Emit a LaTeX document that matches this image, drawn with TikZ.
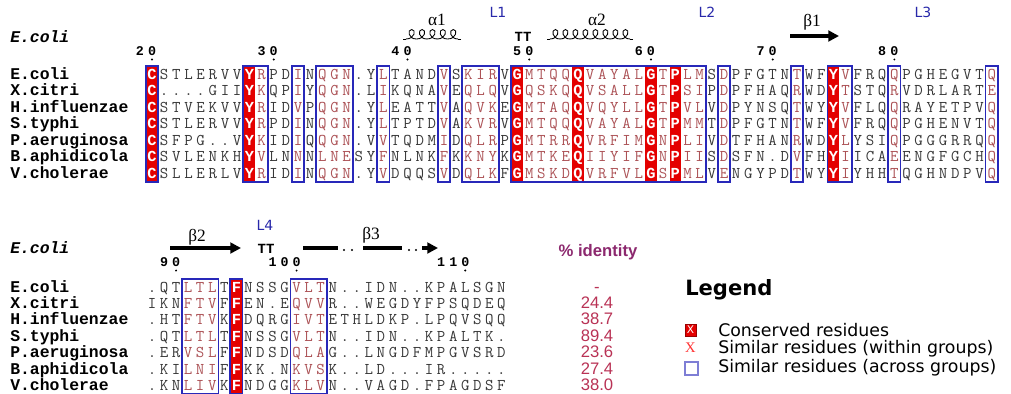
\documentclass[tikz,border=0pt]{standalone}
\usepackage{fontspec}
\usetikzlibrary{arrows.meta}
\newfontfamily\namefont{Liberation Mono}
\newfontfamily\seqfont{Latin Modern Mono}
\newfontfamily\legfont{DejaVu Sans}
\newfontfamily\idfont{Liberation Sans}
\newfontfamily\grkfont{Liberation Serif}
\definecolor{consred}{RGB}{228,0,0}
\definecolor{boxblue}{RGB}{40,40,185}
\definecolor{simred}{RGB}{172,82,86}
\definecolor{resblack}{RGB}{55,55,55}
\definecolor{lblue}{RGB}{40,40,170}
\definecolor{idpurple}{RGB}{140,40,110}
\definecolor{idred}{RGB}{185,50,85}
\makeatletter
\newcount\colc
\newcommand\markcols[2]{\@for\mc@it:=#2\do{\expandafter\def\csname #1\mc@it\endcsname{}}}
\newcommand\seqrow[6]{%
  \colc=0\relax
  \@tfor\ch:=#6\do{%
    \advance\colc by 1\relax
    \edef\cidx{\the\colc}%
    \node[res=#1\cidx] (#1#2c\cidx) at ({#3+(\cidx-1)*#4},#5) {\ch};%
  }%
}
\makeatother
% helix glyph: #1 start x of loops, #2 number of loops, #3 loop width, #4 baseline y
\newcommand\helixloops[4]{%
  \foreach \k in {1,...,#2}{%
    \pgfmathsetmacro\hx{#1+(\k-1)*#3}%
    \draw[helixline] (\hx,#4) .. controls (\hx+0.85*#3,#4) and (\hx+1.0*#3,#4-9.5) .. (\hx+0.55*#3,#4-9.5)
      .. controls (\hx+0.1*#3,#4-9.5) and (\hx+0.2*#3,#4) .. (\hx+#3,#4);
  }}
\markcols{Ct}{1,9,31,36,42,44,57}
\markcols{St}{10,13,15,16,17,20,25,27,28,29,32,33,34,35,37,38,39,40,41,43,45,46,48,54,58,62,70}
\markcols{Cb}{8}
\markcols{Sb}{4,5,6,13,14,15}
\tikzset{
  resbase/.style={anchor=base, inner sep=0pt, font=\seqfont\fontsize{12.3}{14}\selectfont},
  resplain/.style={text=resblack},
  ressim/.style={text=simred},
  rescons/.style={text=white, font=\namefont\bfseries\fontsize{11.5}{14}\selectfont},
  res/.code={\pgfkeysalso{resbase}%
    \ifcsname C#1\endcsname\pgfkeysalso{rescons}\else
    \ifcsname S#1\endcsname\pgfkeysalso{ressim}\else\pgfkeysalso{resplain}\fi\fi},
  namesty/.style={anchor=base west, inner sep=0pt, font=\namefont\bfseries\fontsize{12.3}{14}\selectfont},
  orgsty/.style={anchor=base west, inner sep=0pt, font=\namefont\bfseries\itshape\fontsize{12.3}{14}\selectfont},
  numsty/.style={anchor=base, inner sep=0pt, font=\namefont\bfseries\fontsize{10}{12}\selectfont},
  boxsty/.style={draw=boxblue, line width=1.2pt},
  loopsty/.style={anchor=base, inner sep=0pt, text=lblue, font=\legfont\fontsize{10.5}{12}\selectfont},
  sslab/.style={anchor=base, inner sep=0pt, font=\grkfont\fontsize{13}{15}\selectfont},
  ttsty/.style={anchor=base, inner sep=0pt, font=\namefont\bfseries\fontsize{10.5}{12}\selectfont},
  helixline/.style={line width=0.65pt},
  strand/.style={line width=2.3pt},
  idsty/.style={anchor=base, inner sep=0pt, text=idred, font=\idfont\fontsize{12.5}{14}\selectfont},
  legtext/.style={anchor=west, inner sep=0pt, font=\legfont\fontsize{13}{15}\selectfont},
}
\begin{document}
\begin{tikzpicture}[x=0.75pt,y=-0.75pt]
\useasboundingbox (0,0) rectangle (1011,393);
\fill[white] (0,0) rectangle (1011,393);

% ---------------- top block ----------------
\node[orgsty] (orgT) at (10,42) {E.coli};
\foreach \d/\c [count=\k] in {2/0,0/1,3/10,0/11,4/21,0/22,5/31,0/32,6/41,0/42,7/51,0/52,8/61,0/62}
  \node[numsty] (numT\k) at ({152+(\c-1)*12.17},55) {\d};
\foreach \c in {1,11,22,32,42,52,62}
  \fill ({152+(\c-1)*12.17},59.5) circle (1.1);

\node[loopsty] (L1) at (498,17) {L1};
\node[loopsty] (L2) at (707,17) {L2};
\node[loopsty] (L3) at (923,17) {L3};
\node[sslab] (a1) at (437,25) {α1};
\node[sslab] (a2) at (597,25) {α2};
\node[sslab] (b1) at (812,26) {β1};
\coordinate (a1s) at (403,39); \coordinate (a1e) at (461,39);
\coordinate (a2s) at (547,39); \coordinate (a2e) at (633,39);
\draw[helixline] (a1s) -- ++(3,0);
\helixloops{406}{5}{10.4}{39}
\draw[helixline] (a1e) -- ++(-3,0);
\draw[helixline] (a2s) -- ++(3,0);
\helixloops{550}{8}{10}{39}
\draw[helixline] (a2e) -- ++(-3,0);
\node[ttsty] (tt1) at (523,41) {TT};
\coordinate (b1s) at (790,36); \coordinate (b1e) at (839,36);
\draw[strand, -{Triangle[length=8pt,width=8pt]}] (b1s) -- (b1e);

\foreach \c in {1,9,31,36,42,44,57}
  \fill[consred] ({152+(\c-1)*12.17-5.6},66) rectangle ({152+(\c-1)*12.17+5.6},182);
\foreach \a/\b in {1/1,9/10,13/13,15/17,20/20,25/25,27/29,31/46,48/48,54/54,57/58,62/62,70/70}
  \draw[boxsty] ({152+(\a-1)*12.17-6.2},66) rectangle ({152+(\b-1)*12.17+6.2},182);

\foreach \n [count=\i] in {E.coli,X.citri,H.influenzae,S.typhi,P.aeruginosa,B.aphidicola,V.cholerae}
  \node[namesty] (nmT\i) at (10,{79+(\i-1)*16.5}) {\n};

\seqrow{t}{1}{152}{12.17}{79}{CSTLERVVYRPDINQGN.YLTANDVSKIRVGMTQQQVAYALGTPLMSDPFGTNTWFYVFRQQPGHEGVTQ}
\seqrow{t}{2}{152}{12.17}{95.5}{C....GIIYKQPIYQGN.LIKQNAVEQLQVGQSKQQVSALLGTPSIPDPFHAQRWDYTSTQRVDRLARTE}
\seqrow{t}{3}{152}{12.17}{112}{CSTVEKVVYRIDVPQGN.YLEATTVAQVKEGMTAQQVQYLLGTPVLVDPYNSQTWYYVFLQQRAYETPVQ}
\seqrow{t}{4}{152}{12.17}{128.5}{CSTLERVVYRPDINQGN.YLTPTDVAKVRVGMTQQQVAYALGTPMMTDPFGTNTWFYVFRQQPGHENVTQ}
\seqrow{t}{5}{152}{12.17}{145}{CSFPG..VYKIDIQQGN.VVTQDMIDQLRPGMTRRQVRFIMGNPLIVDTFHANRWDYLYSIQPGGGRRQQ}
\seqrow{t}{6}{152}{12.17}{161.5}{CSVLENKHYVLNNNLNESYFNLNKFKKNYKGMTKEQIIYIFGNPIISDSFN.DVFHYIICAEENGFGCHQ}
\seqrow{t}{7}{152}{12.17}{178}{CSLLERLVYRIDINQGN.YVDQQSVDQLKFGMSKDQVRFVLGSPMLVENGYPDTWYYIYHHTQGHNDPVQ}

% ---------------- bottom block ----------------
\node[orgsty] (orgB) at (10,253) {E.coli};
\foreach \d/\c [count=\k] in {9/2,0/3,1/11,0/12,0/13,1/25,1/26,0/27}
  \node[numsty] (numB\k) at ({152+(\c-1)*12.05},266) {\d};
\foreach \c in {3,13,27}
  \fill ({152+(\c-1)*12.05},270.5) circle (1.1);

\node[loopsty] (L4) at (265,230) {L4};
\node[sslab] (b2) at (197,241) {β2};
\node[sslab] (b3) at (371,239) {β3};
\coordinate (b2s) at (170,248); \coordinate (b2e) at (241,248);
\draw[strand, -{Triangle[length=8pt,width=8pt]}] (b2s) -- (b2e);
\node[ttsty] (tt2) at (266,253) {TT};
\coordinate (b3a) at (303,248); \coordinate (b3b) at (338,248);
\coordinate (b3c) at (363,248); \coordinate (b3d) at (402,248);
\coordinate (b3e) at (422,248); \coordinate (b3f) at (438,248);
\draw[strand] (b3a) -- (b3b);
\draw[strand] (b3c) -- (b3d);
\draw[strand, -{Triangle[length=8pt,width=8pt]}] (b3e) -- (b3f);
\foreach \x in {344,352,409,416} \fill (\x,250) circle (1.1);

\fill[consred] ({152+7*12.05-5.6},279) rectangle ({152+7*12.05+5.6},394);
\foreach \a/\b in {4/6,8/8,13/15}
  \draw[boxsty] ({152+(\a-1)*12.05-6.2},279) rectangle ({152+(\b-1)*12.05+6.2},394);

\foreach \n [count=\i] in {E.coli,X.citri,H.influenzae,S.typhi,P.aeruginosa,B.aphidicola,V.cholerae}
  \node[namesty] (nmB\i) at (10,{292+(\i-1)*16.4}) {\n};

\seqrow{b}{1}{152}{12.05}{292}{.QTLTLTFNSSGVLTN..IDN..KPALSGN}
\seqrow{b}{2}{152}{12.05}{308.4}{IKNFTVFFEN.EQVVR..WEGDYFPSQDEQ}
\seqrow{b}{3}{152}{12.05}{324.8}{.HTFTVKFDQRGIVTETHLDKP.LPQVSQQ}
\seqrow{b}{4}{152}{12.05}{341.2}{.QTLTLTFNSSGVLTN..IDN..KPALTK.}
\seqrow{b}{5}{152}{12.05}{357.6}{.ERVSLFFNDSDQLAG..LNGDFMPGVSRD}
\seqrow{b}{6}{152}{12.05}{374}{.KILNIFFKK.NKVSK..LD...IR.....}
\seqrow{b}{7}{152}{12.05}{390.4}{.KNLIVKFNDGGKLVN..VAGD.FPAGDSF}

\node[anchor=base, inner sep=0pt, text=idpurple, font=\idfont\bfseries\fontsize{12.5}{14}\selectfont] (idhead) at (598,256) {\% identity};
\foreach \v [count=\i] in {-,24.4,38.7,89.4,23.6,27.4,38.0}
  \node[idsty] (id\i) at (597,{292+(\i-1)*16.4}) {\v};

% ---------------- legend ----------------
\node[anchor=west, inner sep=0pt, font=\legfont\bfseries\fontsize{15.8}{18}\selectfont] (leg) at (685,290) {Legend};
\fill[consred] (685,324) rectangle (696,336);
\draw[red!60!black, line width=0.5pt] (685,324) rectangle (696,336);
\node[inner sep=0pt, text=white, font=\legfont\fontsize{8}{9}\selectfont] (legx1) at (690.5,330) {X};
\node[inner sep=0pt, text=red!80, font=\grkfont\fontsize{11}{12}\selectfont] (legx2) at (690.5,348) {X};
\draw[boxblue!60, line width=1pt] (685,362) rectangle (698,375);
\node[legtext] (lt1) at (718,330) {Conserved residues};
\node[legtext] (lt2) at (718,349) {Similar residues (within groups)};
\node[legtext] (lt3) at (718,368) {Similar residues (across groups)};
\end{tikzpicture}
\end{document}
